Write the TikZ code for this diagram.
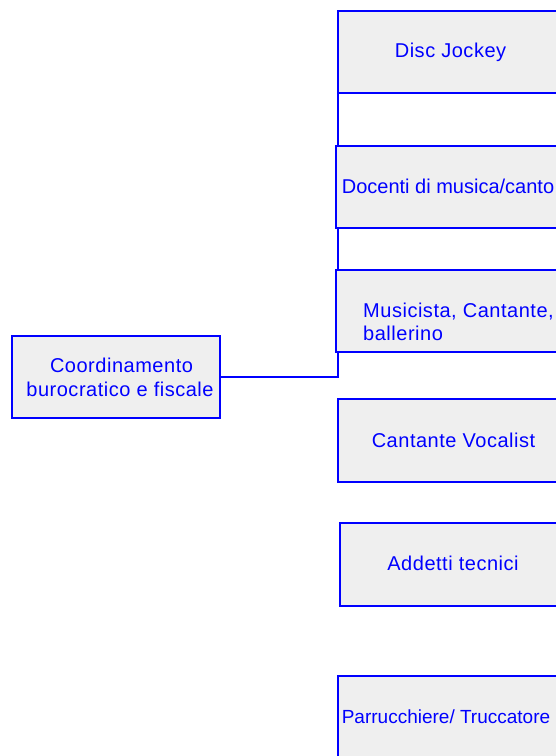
\documentclass[tikz,border=0pt]{standalone}
\usepackage{fontspec}
\setmainfont{Liberation Sans}
\newfontfamily\widesans[LetterSpace=2.6]{Liberation Sans}
\usetikzlibrary{backgrounds}
\definecolor{boxfill}{HTML}{EFEFEF}
\definecolor{boxblue}{HTML}{0000FF}
\begin{document}
\begin{tikzpicture}[x=1bp,y=-1bp,
  box/.style={draw=boxblue, fill=boxfill, line width=1.3bp, inner sep=0pt, outer sep=0pt, anchor=north west},
  lbl/.style={text=boxblue, inner sep=0pt, font=\widesans\fontsize{20bp}{24bp}\selectfont},
  tightlbl/.style={text=boxblue, inner sep=0pt, font=\fontsize{20bp}{24bp}\selectfont},
  conn/.style={draw=boxblue, line width=1.3bp}]
\useasboundingbox (0,0) rectangle (556,756);
\node[box, minimum width=208bp, minimum height=82bp] (coord) at (12,336) {};
\node[box, minimum width=224bp, minimum height=82bp] (dj) at (338,11) {};
\node[box, minimum width=224bp, minimum height=82bp] (doc) at (336,146) {};
\node[box, minimum width=244bp, minimum height=82bp] (mus) at (336,270) {};
\node[box, minimum width=231bp, minimum height=83bp] (cant) at (338,399) {};
\node[box, minimum width=226bp, minimum height=83bp] (add) at (340,523) {};
\node[box, minimum width=226bp, minimum height=83bp] (parr) at (338,676) {};
\begin{pgfonlayer}{background}
\draw[conn] (coord.east) -| (dj.south west);
\end{pgfonlayer}
\node[lbl, anchor=base] (t1a) at (121.5,372.3) {Coordinamento};
\node[lbl, anchor=base] (t1b) at (120,396) {burocratico e fiscale};
\node[lbl, anchor=base] (t2) at (450.5,57.3) {Disc Jockey};
\node[tightlbl, anchor=base] (t3) at (448,193.3) {Docenti di musica/canto};
\node[lbl, anchor=base west] (t4a) at (363,317.3) {Musicista, Cantante,};
\node[lbl, anchor=base west] (t4b) at (363,340) {ballerino};
\node[lbl, anchor=base] (t5) at (453.5,447) {Cantante Vocalist};
\node[lbl, anchor=base] (t6) at (453,570.7) {Addetti tecnici};
\node[tightlbl, anchor=base, font=\fontsize{19bp}{23bp}\selectfont] (t7) at (446,723.3) {Parrucchiere/ Truccatore};
\end{tikzpicture}
\end{document}
